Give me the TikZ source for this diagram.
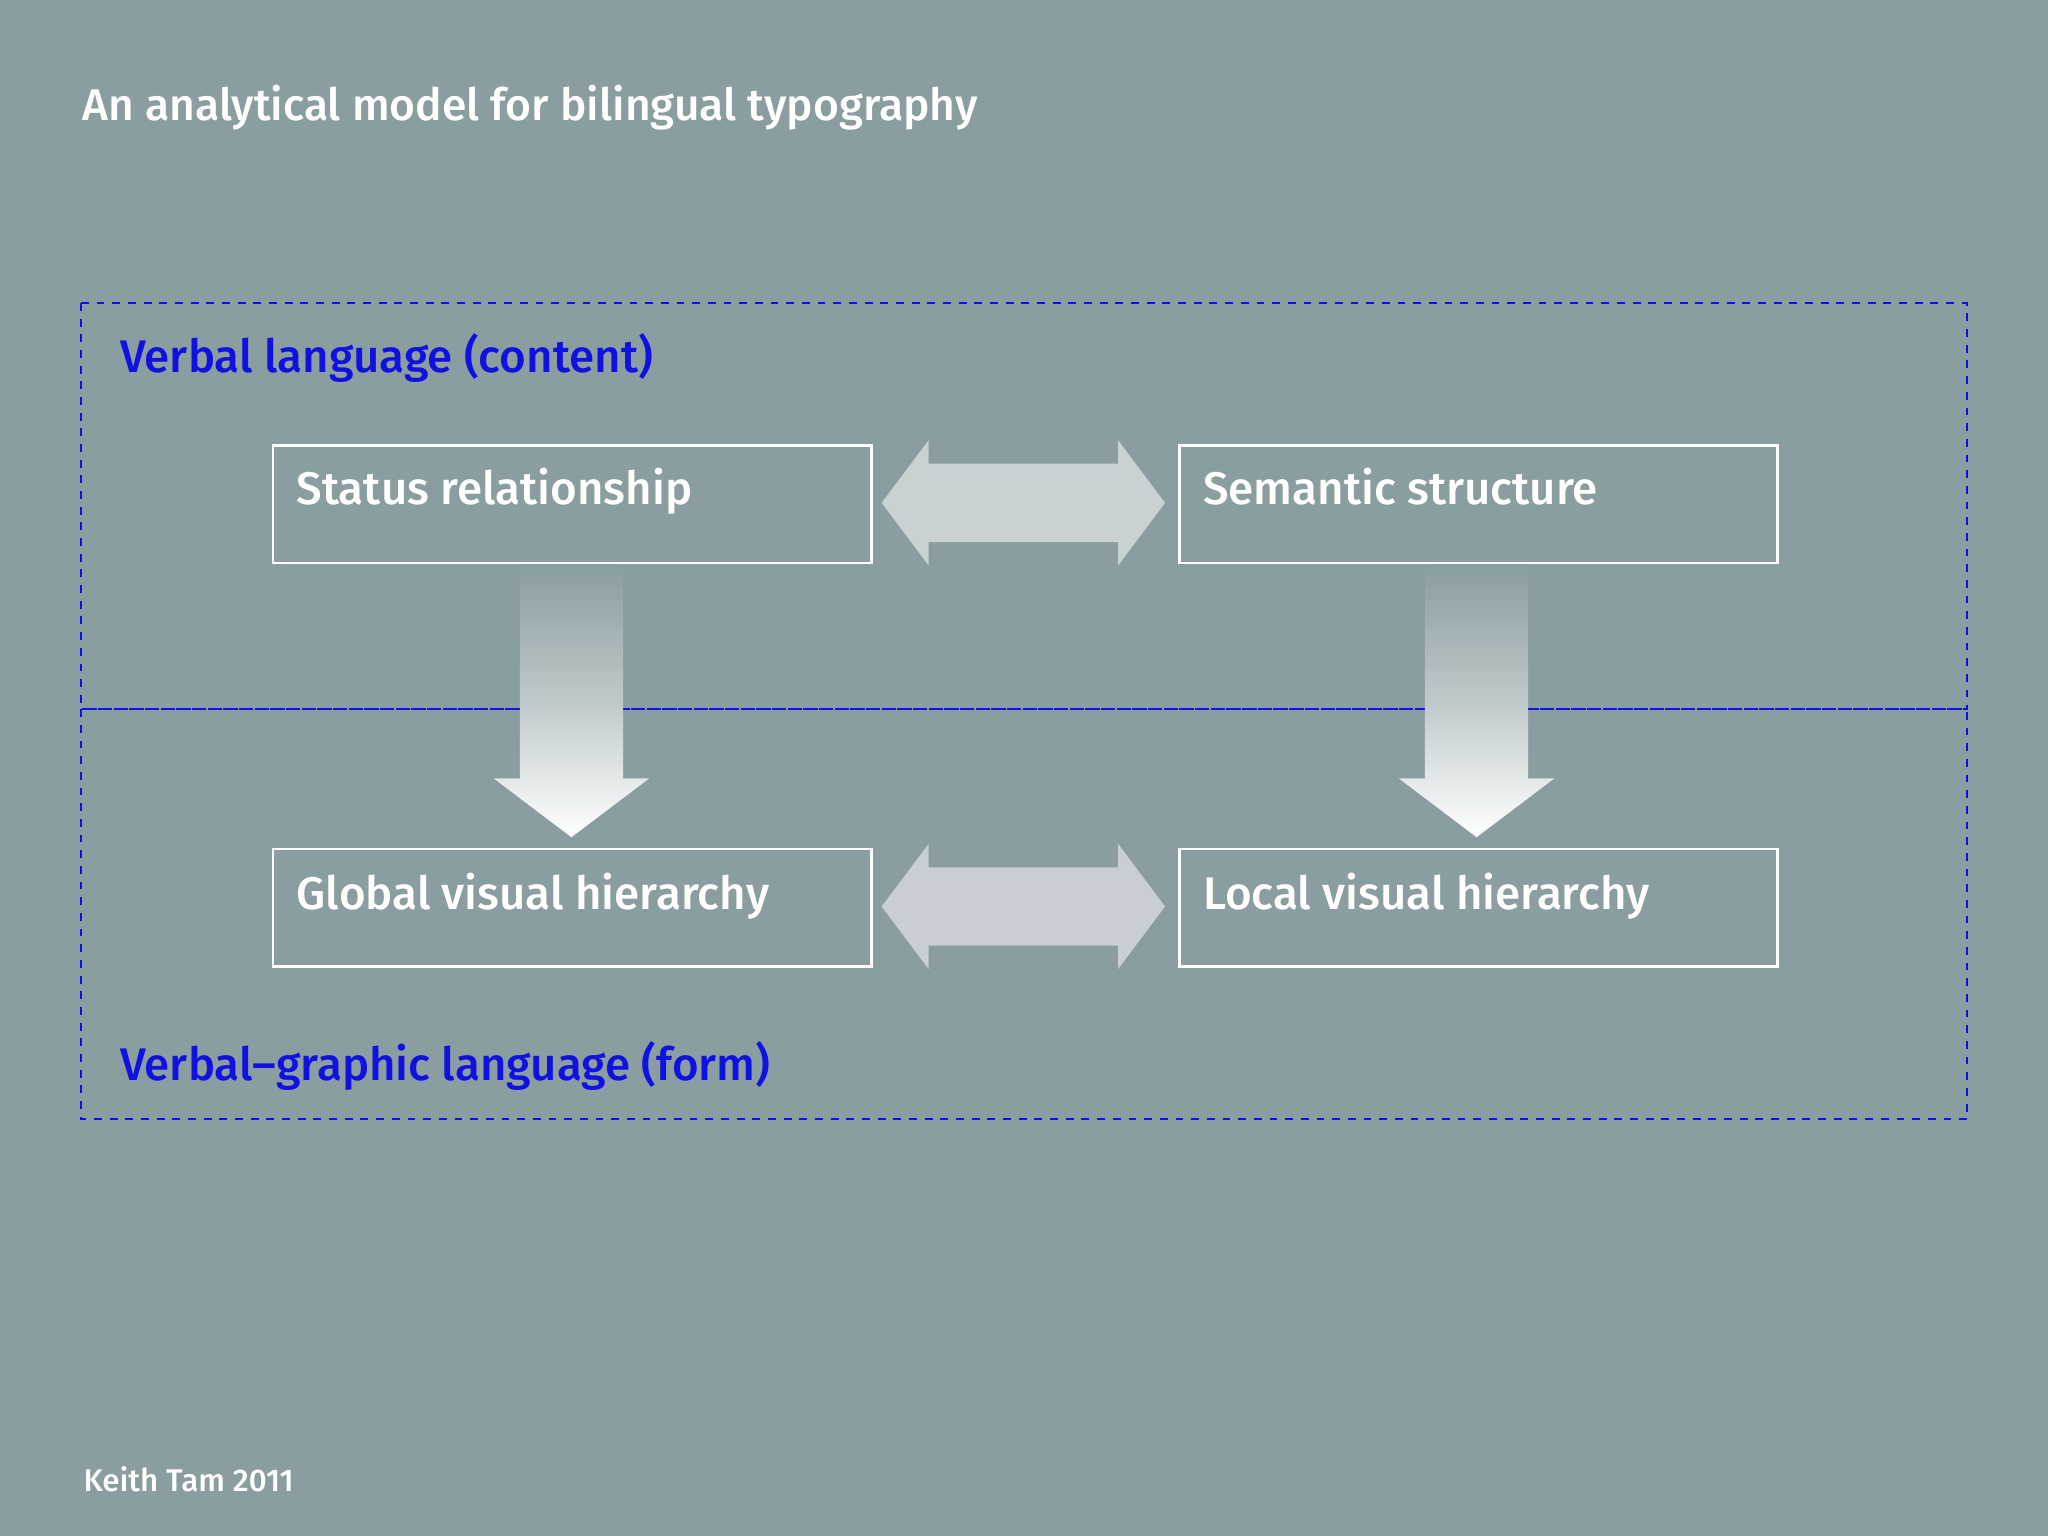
\documentclass[tikz,border=0pt]{standalone}
\usepackage{fontspec}
\setmainfont{Fira Sans}[UprightFont=* Medium]
\definecolor{bg}{HTML}{8A9DA0}
\definecolor{harrow}{HTML}{C9D1D3}
\definecolor{harrowb}{HTML}{C8CED4}
\definecolor{vblue}{HTML}{1010E0}
\begin{document}
\begin{tikzpicture}[x=0.5pt,y=-0.5pt,
  box/.style={draw=white,line width=1pt,minimum width=229pt,minimum height=45pt,anchor=north west,inner sep=0pt},
  boxtext/.style={anchor=base west,text=white,font=\fontsize{17.5}{20}\selectfont},
  lbl/.style={anchor=base west,text=vblue,font=\fontsize{17.5}{20}\selectfont},
  region/.style={draw=vblue,dashed,line width=0.8pt}]
\fill[bg] (0,0) rectangle (1568,1176);
\useasboundingbox (0,0) rectangle (1568,1176);
\node[anchor=base west,text=white,font=\fontsize{17}{20}\selectfont] (title) at (56,92) {An analytical model for bilingual typography};
\node[anchor=base west,text=white,font=\fontsize{12}{14}\selectfont] (foot) at (57,1142) {Keith Tam 2011};
\draw[region] (62,232) rectangle (1506,543);
\draw[region] (62,543) rectangle (1506,857);
\node[lbl] (top) at (85,285) {Verbal language (content)};
\node[lbl] (bot) at (85,827) {Verbal–graphic language (form)};
% vertical arrows
\foreach \cx in {437.5,1130.5}{
  \shade[top color=bg,bottom color=white,middle color=white!45!bg]
    (\cx-39.5,432) -- (\cx+39.5,432) -- (\cx+39.5,596) -- (\cx+59.5,596) -- (\cx,641) -- (\cx-59.5,596) -- (\cx-39.5,596) -- cycle;
}
% horizontal arrows
\fill[harrow] (675,385) -- (711,337) -- (711,355) -- (856,355) -- (856,337) -- (892,385) -- (856,433) -- (856,415) -- (711,415) -- (711,433) -- cycle;
\fill[harrowb] (675,694) -- (711,646) -- (711,664) -- (856,664) -- (856,646) -- (892,694) -- (856,742) -- (856,724) -- (711,724) -- (711,742) -- cycle;
\node[box] (sr) at (208,340) {};
\node[box] (ss) at (902,340) {};
\node[box] (gv) at (208,649) {};
\node[box] (lv) at (902,649) {};
\node[boxtext] at (220,386) {Status relationship};
\node[boxtext] at (914,386) {Semantic structure};
\node[boxtext] at (220,696) {Global visual hierarchy};
\node[boxtext] at (914,696) {Local visual hierarchy};
\end{tikzpicture}
\end{document}
